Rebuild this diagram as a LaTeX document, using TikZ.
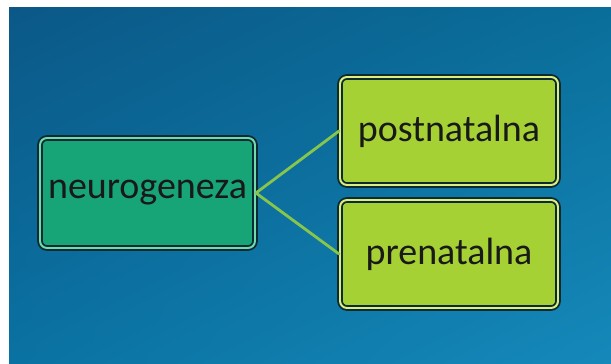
\documentclass[tikz,border=0pt]{standalone}
\usepackage{fontspec}
\setmainfont{Carlito}
\usetikzlibrary{shadings}
\definecolor{bgtl}{HTML}{0B5887}
\definecolor{bgtr}{HTML}{0A6E9A}
\definecolor{bgbl}{HTML}{0A72A2}
\definecolor{bgbr}{HTML}{1589BA}
\definecolor{rootfill}{HTML}{17A477}
\definecolor{rootedge}{HTML}{6FD9B0}
\definecolor{leaffill}{HTML}{A5D135}
\definecolor{leafedge}{HTML}{DDEE80}
\definecolor{boxink}{HTML}{0C2A30}
\definecolor{linkcol}{HTML}{86C64C}

\begin{document}
\begin{tikzpicture}[
  font=\fontsize{27}{30}\selectfont,
  rootbox/.style={draw=boxink, line width=1.3pt, double=rootedge, double distance=1.4pt,
    fill=rootfill, rounded corners=5pt, text=black!90,
    minimum width=5.375cm, minimum height=2.75cm, inner sep=2pt},
  leafbox/.style={draw=boxink, line width=1.3pt, double=leafedge, double distance=1.4pt,
    fill=leaffill, rounded corners=5pt, text=black!90,
    minimum width=5.45cm, minimum height=2.7cm, inner sep=2pt},
  link/.style={draw=linkcol, line width=2pt, line cap=round},
]

% ===== background =====
\fill[white] (0,0) rectangle (15.275,9.1);
\shade[upper left=bgtl, upper right=bgtr, lower left=bgbl, lower right=bgbr]
  (0.225,0) rectangle (15.275,8.9);
\useasboundingbox (0,0) rectangle (15.275,9.1);

% ===== nodes =====
\node[rootbox] (neuro) at (3.6875,4.275) {neurogeneza};
\node[leafbox] (post) at (11.225,5.825) {postnatalna};
\node[leafbox] (pre) at (11.225,2.75) {prenatalna};

% ===== connectors =====
\draw[link] (neuro.east) -- (post.west);
\draw[link] (neuro.east) -- (pre.west);

\end{tikzpicture}
\end{document}
